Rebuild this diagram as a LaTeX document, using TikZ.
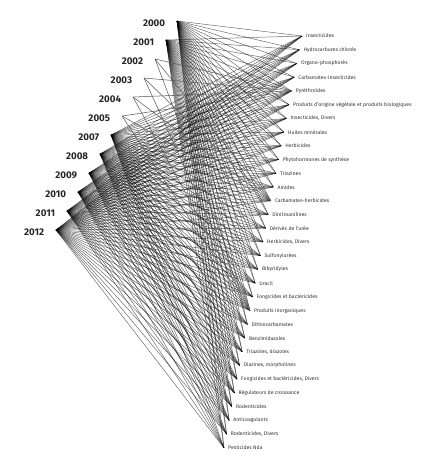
\documentclass[tikz,border=0pt]{standalone}
\usepackage{fontspec}
\setmainfont{Fira Sans}
\usepackage{tikz}
\usetikzlibrary{positioning}

\begin{document}
\begin{tikzpicture}[x=0.3mm,y=-0.3mm,
  yearlbl/.style={font=\fontsize{8.3}{9}\selectfont\bfseries,inner sep=0pt,text=black!85},
  catlbl/.style={font=\fontsize{4.4}{5}\selectfont,inner sep=0pt,text=black!80},
  link/.style={line width=0.4pt,draw=black,draw opacity=0.6},
  sparse/.style={line width=0.45pt,draw=black!65}]
  \useasboundingbox (0,0) rectangle (440,459);

  % categories, down the right side
  \foreach \name [count=\k from 0] in {Insecticides,Hydrocarbures chlorés,Organo-phosphorés,
    Carbamates-insecticides,Pyréthroïdes,Produits d'origine végétale et produits biologiques,
    {Insecticides, Divers},Huiles minérales,Herbicides,Phytohormones de synthèse,Triazines,Amides,
    Carbamates-herbicides,Dinitroanilines,Dérivés de l'urée,{Herbicides, Divers},Sulfonylurées,
    Bibyridyles,Uracil,Fongicides et bactéricides,Produits inorganiques,Dithiocarbamates,
    Benzimidazoles,{Triazoles, diazoles},{Diazines, morpholines},{Fongicides et bactéricides, Divers},
    Régulateurs de croissance,Rodenticides,Anticoagulants,{Rodenticides, Divers},Pesticides Nda}{
    \coordinate (cat\k) at ({302-2.6*\k},{36+13.73*\k});
    \node[catlbl,right=1.2mm of cat\k] (lbl\k) {\name};
  }

  % years, down the left side (no 2006)
  \foreach \yr [count=\i from 0] in {2000,2001,2002,2003,2004,2005,2007,2008,2009,2010,2011,2012}{
    \coordinate (y\yr) at ({177-11*\i},{21+19*\i});
    \node[yearlbl,left=3.5mm of y\yr,yshift=-0.6mm] (ylbl\yr) {\yr};
  }

  % links
  \foreach \yr in {2000,2001,2007,2008,2009,2010,2011,2012}
    \foreach \k in {0,...,30}
      \draw[link] (y\yr) -- (cat\k);
  \foreach \yr in {2002,2003,2004,2005}
    \foreach \k in {4,12,20}
      \draw[sparse] (y\yr) -- (cat\k);
\end{tikzpicture}
\end{document}
